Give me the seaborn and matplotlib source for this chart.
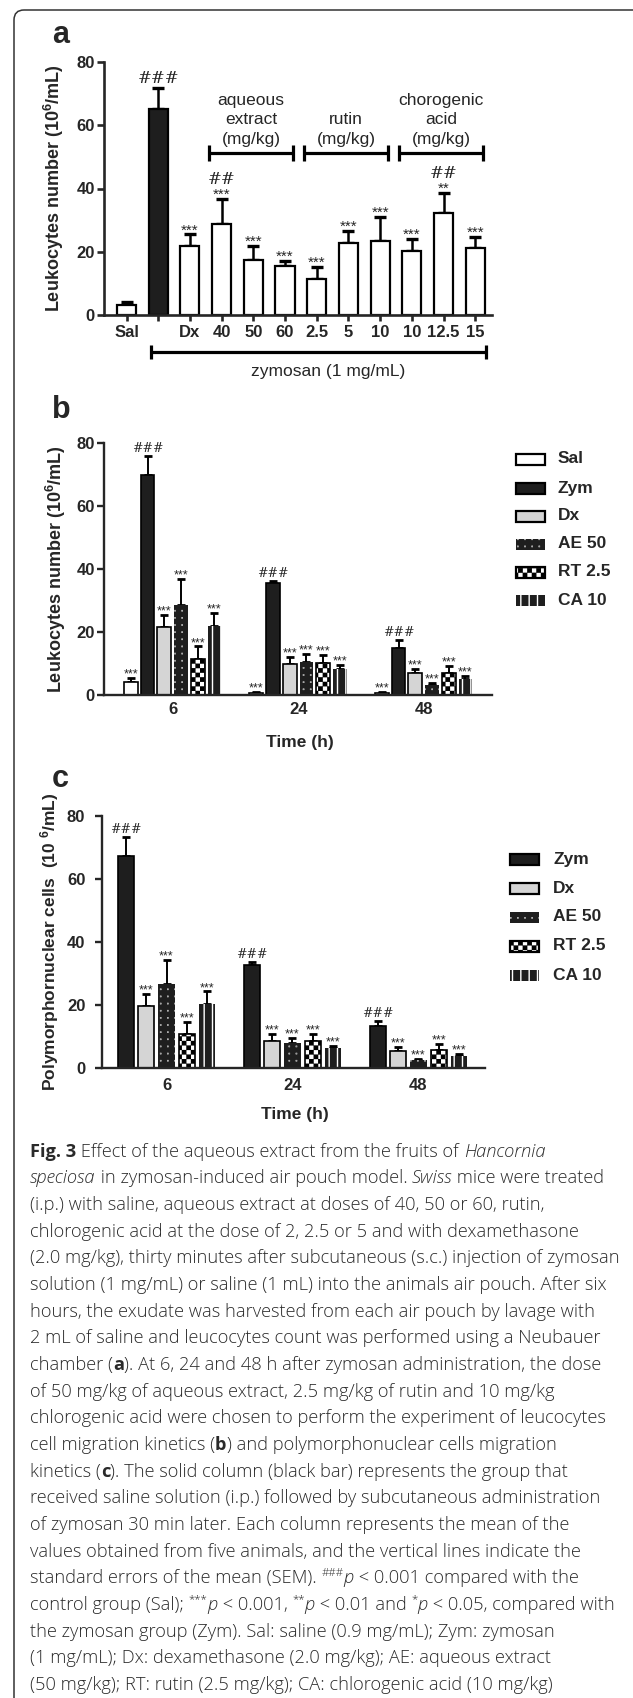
import numpy as np
import pandas as pd
import matplotlib
matplotlib.use("Agg")
import matplotlib.pyplot as plt
import matplotlib.hatch as mhatch
import matplotlib.transforms as mtransforms
from matplotlib.path import Path
from matplotlib.patches import Rectangle, FancyBboxPatch
from matplotlib.font_manager import FontProperties, fontManager
import seaborn as sns

# ---------------- data : panel a ----------------
a_keys = ["Sal", "Zym", "Dx", "AE40", "AE50", "AE60", "RT2.5", "RT5", "RT10", "CA10", "CA12.5", "CA15"]
a_ticklabels = ["Sal", "", "Dx", "40", "50", "60", "2.5", "5", "10", "10", "12.5", "15"]
a_means = [3.1, 65.2, 21.8, 28.7, 17.3, 15.5, 11.5, 22.7, 23.4, 20.1, 32.2, 21.1]
a_sem = [1.0, 6.6, 3.7, 8.0, 4.5, 1.7, 3.8, 4.0, 7.7, 4.0, 6.3, 3.7]
a_stars = ["", "", "***", "***", "***", "***", "***", "***", "***", "***", "**", "***"]
a_hash = ["", "###", "", "##", "", "", "", "", "", "", "##", ""]
a_groups = [("aqueous\nextract\n(mg/kg)", 3, 5), ("rutin\n(mg/kg)", 6, 8), ("chorogenic\nacid\n(mg/kg)", 9, 11)]
a_zym_span = (1, 11)

# ---------------- data : panel b ----------------
times = ["6", "24", "48"]
b_groups = ["Sal", "Zym", "Dx", "AE 50", "RT 2.5", "CA 10"]
b_sal = [4.2, 0.7, 0.7]
b_sal_err = [1.3, 0.3, 0.3]
b_zym = [69.7, 35.7, 15.0]
b_zym_err = [6.1, 0.5, 2.5]
b_dx = [21.7, 9.9, 6.9]
b_dx_err = [3.7, 2.1, 1.4]
b_ae = [28.6, 10.4, 3.2]
b_ae_err = [8.2, 2.6, 0.7]
b_rt = [11.4, 10.3, 7.1]
b_rt_err = [4.0, 2.4, 2.1]
b_ca = [21.9, 8.2, 5.0]
b_ca_err = [4.1, 1.3, 1.0]
b_marks = ["***", "###", "***", "***", "***", "***"]

# ---------------- data : panel c ----------------
c_groups = ["Zym", "Dx", "AE 50", "RT 2.5", "CA 10"]
c_zym = [67.3, 32.8, 13.4]
c_zym_err = [5.9, 0.7, 1.4]
c_dx = [19.6, 8.7, 5.5]
c_dx_err = [4.0, 2.1, 1.2]
c_ae = [26.7, 7.9, 2.4]
c_ae_err = [7.6, 1.6, 0.5]
c_rt = [10.9, 8.7, 5.8]
c_rt_err = [3.6, 2.2, 1.9]
c_ca = [20.4, 6.3, 3.9]
c_ca_err = [3.9, 0.6, 0.6]
c_marks = ["###", "***", "***", "***", "***"]

yticks = [0, 20, 40, 60, 80]

# ---------------- caption text ----------------
R, I, B, S = "r", "i", "b", "s"
caption = [
    [(B, "Fig. 3"), (R, " Effect of the aqueous extract from the fruits of "), (I, "Hancornia")],
    [(I, "speciosa"), (R, " in zymosan-induced air pouch model. "), (I, "Swiss"), (R, " mice were treated")],
    [(R, "(i.p.) with saline, aqueous extract at doses of 40, 50 or 60, rutin,")],
    [(R, "chlorogenic acid at the dose of 2, 2.5 or 5 and with dexamethasone")],
    [(R, "(2.0 mg/kg), thirty minutes after subcutaneous (s.c.) injection of zymosan")],
    [(R, "solution (1 mg/mL) or saline (1 mL) into the animals air pouch. After six")],
    [(R, "hours, the exudate was harvested from each air pouch by lavage with")],
    [(R, "2 mL of saline and leucocytes count was performed using a Neubauer")],
    [(R, "chamber ("), (B, "a"), (R, "). At 6, 24 and 48 h after zymosan administration, the dose")],
    [(R, "of 50 mg/kg of aqueous extract, 2.5 mg/kg of rutin and 10 mg/kg")],
    [(R, "chlorogenic acid were chosen to perform the experiment of leucocytes")],
    [(R, "cell migration kinetics ("), (B, "b"), (R, ") and polymorphonuclear cells migration")],
    [(R, "kinetics ("), (B, "c"), (R, "). The solid column (black bar) represents the group that")],
    [(R, "received saline solution (i.p.) followed by subcutaneous administration")],
    [(R, "of zymosan 30 min later. Each column represents the mean of the")],
    [(R, "values obtained from five animals, and the vertical lines indicate the")],
    [(R, "standard errors of the mean (SEM). "), (S, "###"), (I, "p"), (R, " < 0.001 compared with the")],
    [(R, "control group (Sal); "), (S, "***"), (I, "p"), (R, " < 0.001, "), (S, "**"), (I, "p"),
     (R, " < 0.01 and "), (S, "*"), (I, "p"), (R, " < 0.05, compared with")],
    [(R, "the zymosan group (Zym). Sal: saline (0.9 mg/mL); Zym: zymosan")],
    [(R, "(1 mg/mL); Dx: dexamethasone (2.0 mg/kg); AE: aqueous extract")],
    [(R, "(50 mg/kg); RT: rutin (2.5 mg/kg); CA: chlorogenic acid (10 mg/kg)")],
]


# ---------------- custom hatches: '*' -> checkerboard, 'o' -> fine dot grid ----------------
class CheckerHatch(mhatch.HatchPatternBase):
    def __init__(self, hatch, density):
        self.n = 22 if "*" in hatch else 0
        self.num_vertices = (self.n * self.n // 2) * 5

    def set_vertices_and_codes(self, vertices, codes):
        s = 1.0 / self.n
        d = 0.006
        k = 0
        for i in range(self.n):
            for j in range(self.n):
                if (i + j) % 2 == 0:
                    x0, y0 = i * s + d, j * s + d
                    x1, y1 = (i + 1) * s - d, (j + 1) * s - d
                    vertices[k:k + 5] = [(x0, y0), (x1, y0), (x1, y1), (x0, y1), (x0, y0)]
                    codes[k] = Path.MOVETO
                    codes[k + 1:k + 4] = Path.LINETO
                    codes[k + 4] = Path.CLOSEPOLY
                    k += 5


class DotHatch(mhatch.HatchPatternBase):
    def __init__(self, hatch, density):
        self.n = 14 if "o" in hatch else 0
        self.num_vertices = self.n * self.n * 5

    def set_vertices_and_codes(self, vertices, codes):
        s = 1.0 / self.n
        r = 0.001
        k = 0
        for i in range(self.n):
            for j in range(self.n):
                cx, cy = (i + 0.5) * s, (j + 0.5) * s
                vertices[k:k + 5] = [(cx - r, cy - r), (cx + r, cy - r), (cx + r, cy + r),
                                     (cx - r, cy + r), (cx - r, cy - r)]
                codes[k] = Path.MOVETO
                codes[k + 1:k + 4] = Path.LINETO
                codes[k + 4] = Path.CLOSEPOLY
                k += 5


mhatch._hatch_types = [t for t in mhatch._hatch_types
                       if t not in (mhatch.Stars, mhatch.SmallCircles)] + [CheckerHatch, DotHatch]

# ---------------- style ----------------
sns.set_style("ticks")
plt.rcParams["font.family"] = ["Liberation Sans", "DejaVu Sans"]
plt.rcParams["hatch.linewidth"] = 1.0

installed = {f.name for f in fontManager.ttflist}
CAP_FONT = "Open Sans" if "Open Sans" in installed else "Noto Sans"

DARK = "#1e1e1e"
GRAY = "#d5d5d5"
styles = {
    "Sal": dict(face="white", edge="black", hatch=None),
    "Zym": dict(face=DARK, edge="black", hatch=None),
    "Dx": dict(face=GRAY, edge="black", hatch=None),
    "AE 50": dict(face=DARK, edge="white", hatch="o"),
    "RT 2.5": dict(face="white", edge="black", hatch="*"),
    "CA 10": dict(face=DARK, edge="white", hatch="||"),
}

W, H = 633, 1698
fig = plt.figure(figsize=(W / 100, H / 100), dpi=100)
fig.patch.set_facecolor("white")
PIX = mtransforms.IdentityTransform()


def rect(l, t, r, b):
    return [l / W, 1 - b / H, (r - l) / W, (b - t) / H]


def fx(px):
    return px / W


def fy(py):
    return 1 - py / H


def style_axis(ax, lw, ylab_pad, xtick_len, xpad):
    sns.despine(ax=ax)
    for sp in ("left", "bottom"):
        ax.spines[sp].set_linewidth(lw)
    ax.set_ylim(0, 80)
    ax.set_yticks(yticks)
    ax.tick_params(axis="y", length=5, width=lw, pad=ylab_pad, labelsize=12)
    ax.tick_params(axis="x", length=xtick_len, width=lw, pad=xpad, labelsize=12)
    for t in ax.get_yticklabels() + ax.get_xticklabels():
        t.set_fontweight("bold")
    ax.set_xlabel("")
    ax.set_ylabel("")


def apply_style(patch, name, lw):
    st = styles[name]
    patch.set_facecolor(st["face"])
    if st["hatch"]:
        patch.set_hatch(st["hatch"])
    patch.set_edgecolor(st["edge"])
    patch.set_linewidth(0 if st["edge"] == "white" else lw)


def draw_legend(names, x_handle, x_text, y_centers, w=29, h=11):
    fp = FontProperties(family="Liberation Sans", weight="bold", size=12.5)
    for name, yc in zip(names, y_centers):
        st = styles[name]
        r = Rectangle((x_handle, H - yc - h / 2), w, h, transform=PIX,
                      facecolor=st["face"], edgecolor=st["edge"], hatch=st["hatch"],
                      linewidth=0 if st["edge"] == "white" else 1.6)
        fig.add_artist(r)
        fig.text(fx(x_text), fy(yc), name, fontproperties=fp, va="center", ha="left")


# =========================== panel a ===========================
axa = fig.add_axes(rect(104, 62, 492, 315))
dfa = pd.DataFrame({"group": a_keys, "value": a_means})
sns.barplot(data=dfa, x="group", y="value", order=a_keys, color="white", saturation=1,
            width=0.6, edgecolor="black", linewidth=1.6, errorbar=None, ax=axa)
bars_a = list(axa.patches)
bars_a[1].set_facecolor(DARK)
xs_a = np.array([p.get_x() + p.get_width() / 2 for p in bars_a])
axa.errorbar(xs_a, a_means, yerr=[np.zeros(len(a_means)), a_sem], fmt="none", ecolor="black",
             elinewidth=1.8, capsize=4.3, capthick=2.4, zorder=0.9)
for x, m, e, s, h in zip(xs_a, a_means, a_sem, a_stars, a_hash):
    top = m + e
    if s:
        axa.annotate(s, (x, top), xytext=(0, 0), textcoords="offset points",
                     ha="center", va="baseline", fontsize=11)
    if h:
        axa.annotate(h, (x, top), xytext=(0, 11 if s else 3.5), textcoords="offset points",
                     ha="center", va="baseline", fontsize=12, family="DejaVu Serif")
axa.set_xlim(-0.71, 11.53)
axa.set_xticks(range(len(a_keys)))
axa.set_xticklabels(a_ticklabels)
style_axis(axa, 1.9, 1.5, 4, 3)

for label, i0, i1 in a_groups:
    x0, x1 = i0 - 0.4, i1 + 0.25
    yb = 51.2
    axa.plot([x0, x1], [yb, yb], color="black", lw=2.3, solid_capstyle="butt")
    for xe in (x0, x1):
        axa.plot([xe, xe], [yb - 2.4, yb + 2.4], color="black", lw=2.3, solid_capstyle="butt")
    axa.text((x0 + x1) / 2, 53.2, label, ha="center", va="bottom", fontsize=12.5, linespacing=1.38)

blend = mtransforms.blended_transform_factory(axa.transData, axa.transAxes)
z0, z1 = a_zym_span[0] - 0.24, a_zym_span[1] + 0.33
axa.plot([z0, z1], [-0.146, -0.146], color="black", lw=2.3, transform=blend, clip_on=False,
         solid_capstyle="butt")
for xe in (z0, z1):
    axa.plot([xe, xe], [-0.172, -0.12], color="black", lw=2.3, transform=blend, clip_on=False,
             solid_capstyle="butt")
axa.text((z0 + z1) / 2 + 0.3, -0.225, "zymosan (1 mg/mL)", ha="center", va="center",
         fontsize=12.5, transform=blend)

fig.text(fx(52), fy(43), "a", fontsize=22, fontweight="bold", va="baseline")
fig.text(fx(54), fy(188.5), r"Leukocytes number (10$\mathregular{^6}$/mL)", rotation=90,
         ha="center", va="center", fontsize=13, fontweight="bold")


# =========================== panels b & c ===========================
def grouped_panel(ax, groups, values, errors, marks, gap, lw):
    rows = []
    for g, vals in zip(groups, values):
        for t, v in zip(times, vals):
            rows.append({"time": t, "group": g, "value": v})
    df = pd.DataFrame(rows)
    sns.barplot(data=df, x="time", y="value", hue="group", order=times, hue_order=groups,
                palette={g: styles[g]["face"] for g in groups}, width=0.8, gap=gap,
                saturation=1, edgecolor="black", linewidth=lw, errorbar=None, legend=False, ax=ax)
    for cont, g, vals, errs, mk in zip(ax.containers, groups, values, errors, marks):
        xs = []
        for p in cont:
            apply_style(p, g, lw)
            xs.append(p.get_x() + p.get_width() / 2)
        ax.errorbar(xs, vals, yerr=[np.zeros(len(vals)), errs], fmt="none", ecolor="black",
                    elinewidth=1.4, capsize=3.0, capthick=2.0, zorder=0.9)
        for x, v, e in zip(xs, vals, errs):
            if mk.startswith("#"):
                ax.annotate(mk, (x, v + e), xytext=(0, 3), textcoords="offset points",
                            ha="center", va="baseline", fontsize=9, family="DejaVu Serif")
            else:
                ax.annotate(mk, (x, v + e), xytext=(0, 0.3), textcoords="offset points",
                            ha="center", va="baseline", fontsize=9)


axb = fig.add_axes(rect(104, 443, 492, 695))
grouped_panel(axb, b_groups,
              [b_sal, b_zym, b_dx, b_ae, b_rt, b_ca],
              [b_sal_err, b_zym_err, b_dx_err, b_ae_err, b_rt_err, b_ca_err],
              b_marks, 0.18, 1.2)
axb.set_xlim(-0.547, 2.545)
style_axis(axb, 1.7, 1.5, 0, 5)
fig.text(fx(52), fy(418), "b", fontsize=22, fontweight="bold", va="baseline")
fig.text(fx(55.5), fy(569), r"Leukocytes number (10$\mathregular{^6}$/mL)", rotation=90,
         ha="center", va="center", fontsize=13, fontweight="bold")
fig.text(fx(300), fy(742), "Time (h)", ha="center", va="center", fontsize=12.5, fontweight="bold")
draw_legend(b_groups, 516, 558, [459, 488, 516, 544, 572, 600])

axc = fig.add_axes(rect(102, 816, 484.5, 1068))
grouped_panel(axc, c_groups,
              [c_zym, c_dx, c_ae, c_rt, c_ca],
              [c_zym_err, c_dx_err, c_ae_err, c_rt_err, c_ca_err],
              c_marks, 0.2, 1.2)
axc.set_xlim(-0.512, 2.524)
style_axis(axc, 1.7, 7, 0, 7.5)
fig.text(fx(52), fy(787), "c", fontsize=22, fontweight="bold", va="baseline")
fig.text(fx(50), fy(942), r"Polymorphornuclear cells  (10 $\mathregular{^6}$/mL)", rotation=90,
         ha="center", va="center", fontsize=12.5, fontweight="bold")
fig.text(fx(295), fy(1115), "Time (h)", ha="center", va="center", fontsize=12.5, fontweight="bold")
draw_legend(c_groups, 510, 553, [859, 888, 917, 946, 975])

# =========================== caption ===========================
renderer = fig.canvas.get_renderer()


def props(kind, size):
    if kind == B:
        return FontProperties(family=CAP_FONT, weight="bold", size=size)
    if kind == I:
        return FontProperties(family=CAP_FONT, style="italic", weight="light", size=size)
    if kind == S:
        return FontProperties(family=CAP_FONT, weight="light", size=size * 0.62)
    return FontProperties(family=CAP_FONT, weight="light", size=size)


def seg_width(text, fp):
    w1 = renderer.get_text_width_height_descent("|" + text + "|", fp, ismath=False)[0]
    w0 = renderer.get_text_width_height_descent("||", fp, ismath=False)[0]
    return w1 - w0


base = 12.0
max_w = max(sum(seg_width(t, props(k, base)) for k, t in line) for line in caption)
cap_size = base * 592.0 / max_w

x_left = 30.0
for li, line in enumerate(caption):
    yb = 1156.7 + 26.67 * li
    x = x_left
    for kind, text in line:
        fp = props(kind, cap_size)
        dy = cap_size * 1.389 * 0.42 if kind == S else 0.0
        fig.text(fx(x), fy(yb - dy), text, fontproperties=fp, va="baseline", ha="left",
                 color="#2a2a2a")
        x += seg_width(text, fp)

# =========================== outer border ===========================
box = FancyBboxPatch((14, -30), 640, H - 10 + 30,
                     boxstyle="round,pad=0,rounding_size=10",
                     transform=PIX, fill=False, edgecolor="#333333", linewidth=1.1)
fig.add_artist(box)

fig.savefig("out.png", dpi=100, facecolor="white")
